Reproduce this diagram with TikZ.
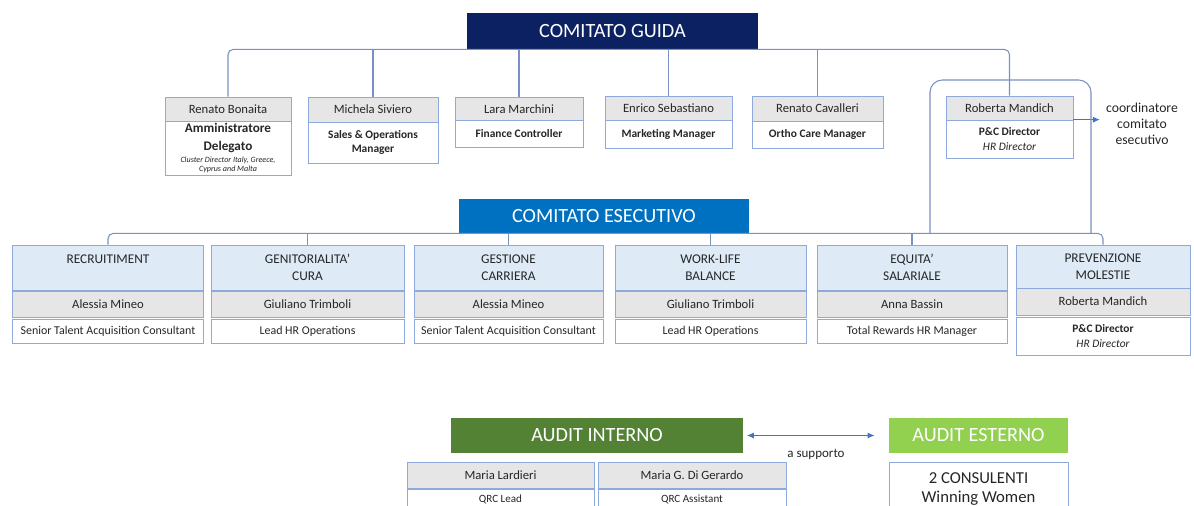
\documentclass[tikz,border=0pt]{standalone}
\usepackage{fontspec}
\setmainfont{Carlito}
\usetikzlibrary{positioning, arrows.meta}
\definecolor{cgnavy}{HTML}{0C2161}
\definecolor{ceblue}{HTML}{0070C0}
\definecolor{hdfill}{HTML}{DEEBF7}
\definecolor{bordc}{HTML}{8EA9DB}
\definecolor{namefill}{HTML}{E6E6E6}
\definecolor{linkc}{HTML}{7A8FC2}
\definecolor{aigreen}{HTML}{548235}
\definecolor{aegreen}{HTML}{92D050}
\definecolor{arrc}{HTML}{4472C4}
\definecolor{txt}{HTML}{262626}

\begin{document}
\begin{tikzpicture}[x=0.02cm, y=-0.02cm,
    head/.style={fill=#1, text=white, font=\fontsize{11.5}{13}\selectfont, inner sep=0pt},
    nm/.style={draw=bordc, fill=namefill, text=txt, font=\fontsize{7.2}{9}\selectfont, minimum height=0.5cm, inner sep=0pt},
    job/.style={draw=bordc, fill=white, text=txt, font=\fontsize{6.8}{8}\selectfont, align=center, inner sep=0pt},
    tit/.style={job, font=\fontsize{6.5}{8.4}\selectfont\bfseries},
    area/.style={draw=bordc, fill=hdfill, text=txt, font=\fontsize{7.6}{9.6}\selectfont, align=center, minimum width=3.82cm, minimum height=0.9cm, inner sep=0pt},
    link/.style={draw=linkc, line width=0.6pt, rounded corners=3pt},
    arr/.style={draw=arrc, line width=0.6pt}]
  \useasboundingbox (0,0) rectangle (1194,506);
  \clip (0,0) rectangle (1194,506);

  \node[head=cgnavy, minimum width=5.82cm, minimum height=0.72cm] (cg) at (612.5,31) {COMITATO GUIDA};

  \node[nm, minimum width=2.52cm, minimum height=0.48cm] (rbn) at (228,109) {Renato Bonaita};
  \node[tit, minimum width=2.52cm, minimum height=1.08cm] (rbr) at (228,148) {{\fontsize{7.5}{9}\selectfont Amministratore}\\[1.6pt]{\fontsize{7.5}{9}\selectfont Delegato}\\[-1.5pt]{\fontsize{4.6}{5}\selectfont\mdseries\itshape Cluster Director Italy, Greece,}\\[-3.6pt]{\fontsize{4.6}{5}\selectfont\mdseries\itshape Cyprus and Malta}};
  \node[nm, minimum width=2.6cm] (msn) at (373,109.5) {Michela Siviero};
  \node[tit, minimum width=2.6cm, minimum height=0.82cm] (msr) at (373,142.5) {Sales \& Operations\\Manager};
  \node[nm, minimum width=2.56cm, minimum height=0.48cm] (lmn) at (519,109) {Lara Marchini};
  \node[tit, minimum width=2.56cm, minimum height=0.54cm] (lmr) at (519,134) {Finance Controller};
  \node[nm, minimum width=2.54cm, minimum height=0.48cm] (esn) at (668.5,108) {Enrico Sebastiano};
  \node[tit, minimum width=2.54cm, minimum height=0.56cm] (esr) at (668.5,134) {Marketing Manager};
  \node[nm, minimum width=2.62cm] (rcn) at (817.5,108.5) {Renato Cavalleri};
  \node[tit, minimum width=2.62cm, minimum height=0.54cm] (rcr) at (817.5,134.5) {Ortho Care Manager};
  \node[nm, minimum width=2.54cm, minimum height=0.48cm] (rmn) at (1009.5,108) {Roberta Mandich};
  \node[tit, minimum width=2.54cm, minimum height=0.76cm] (rmr) at (1009.5,139) {P\&C Director\\{\mdseries\itshape HR Director}};
  \node[text=txt, font=\fontsize{7.8}{9}\selectfont, align=center] (coord) at (1142,124) {coordinatore\\comitato\\esecutivo};

  \draw[link] (rbn.north) |- (cg.south);
  \draw[link] (rmn.north) |- (cg.south);
  \draw[link] (msn.north) -- (msn.north |- cg.south);
  \draw[link] (lmn.north) -- (lmn.north |- cg.south);
  \draw[link] (esn.north) -- (esn.north |- cg.south);
  \draw[link] (rcn.north) -- (rcn.north |- cg.south);
  \draw[arr, -{Latex[length=4pt, width=3.5pt]}] (rmr.north east) -- (rmr.north east -| coord.west);

  \node[head=ceblue, minimum width=5.8cm, minimum height=0.68cm] (ce) at (604,216) {COMITATO ESECUTIVO};

  \node[area] (rec) at (108,267.5) {RECRUITIMENT\\~};
  \node[nm, minimum width=3.82cm, minimum height=0.52cm] (recn) at (108,304) {Alessia Mineo};
  \node[job, minimum width=3.82cm, minimum height=0.48cm] (recr) at (108,331) {Senior Talent Acquisition Consultant};
  \node[area, minimum width=3.86cm] (gen) at (307.5,267.5) {GENITORIALITA’\\CURA};
  \node[nm, minimum width=3.86cm, minimum height=0.52cm] (genn) at (307.5,304) {Giuliano Trimboli};
  \node[job, minimum width=3.86cm, minimum height=0.48cm] (genr) at (307.5,331) {Lead HR Operations};
  \node[area, minimum width=3.78cm] (ges) at (508.5,267.5) {GESTIONE\\CARRIERA};
  \node[nm, minimum width=3.78cm, minimum height=0.52cm] (gesn) at (508.5,304) {Alessia Mineo};
  \node[job, minimum width=3.78cm, minimum height=0.48cm] (gesr) at (508.5,331) {Senior Talent Acquisition Consultant};
  \node[area] (wlb) at (710.5,267.5) {WORK-LIFE\\BALANCE};
  \node[nm, minimum width=3.82cm, minimum height=0.52cm] (wlbn) at (710.5,304) {Giuliano Trimboli};
  \node[job, minimum width=3.82cm, minimum height=0.48cm] (wlbr) at (710.5,331) {Lead HR Operations};
  \node[area, minimum width=3.8cm] (equ) at (912,267.5) {EQUITA’\\SALARIALE};
  \node[nm, minimum width=3.8cm, minimum height=0.52cm] (equn) at (912,304) {Anna Bassin};
  \node[job, minimum width=3.8cm, minimum height=0.48cm] (equr) at (912,331) {Total Rewards HR Manager};
  \node[area, minimum width=3.48cm, minimum height=0.86cm] (pre) at (1103,266.5) {PREVENZIONE\\MOLESTIE};
  \node[nm, minimum width=3.48cm, minimum height=0.54cm] (pren) at (1103,301.5) {Roberta Mandich};
  \node[tit, minimum width=3.48cm, minimum height=0.76cm] (prer) at (1103,336) {P\&C Director\\{\mdseries\itshape HR Director}};

  \draw[link] (rec.north) |- (ce.south);
  \draw[link] (pre.north) |- (ce.south);
  \draw[link] (gen.north) -- (gen.north |- ce.south);
  \draw[link] (ges.north) -- (ges.north |- ce.south);
  \draw[link] (wlb.north) -- (wlb.north |- ce.south);
  \draw[link] (equ.north) -- (equ.north |- ce.south);

  \coordinate (brl) at (930,233);
  \coordinate (brr) at (1091,233);
  \coordinate (brt) at (1010,80);
  \draw[link, rounded corners=7pt] (brl) |- (brt) -| (brr);

  \node[head=aigreen, minimum width=5.84cm, minimum height=0.7cm] (ai) at (597,435.5) {AUDIT INTERNO};
  \node[head=aegreen, minimum width=3.58cm, minimum height=0.7cm] (ae) at (978.5,435.5) {AUDIT ESTERNO};
  \draw[arr, {Latex[length=4pt, width=3.5pt]}-{Latex[length=4pt, width=3.5pt]}, shorten <=2pt, shorten >=8pt] (ai.east) -- node[below=4pt, text=txt, font=\fontsize{7.4}{8}\selectfont] {a supporto} (ae.west);

  \node[nm, minimum width=3.74cm, minimum height=0.52cm] (mln) at (500.5,475) {Maria Lardieri};
  \node[job, minimum width=3.74cm, minimum height=0.4cm, anchor=north, font=\fontsize{6.3}{7}\selectfont] (mlr) at (500.5,489) {QRC Lead};
  \node[nm, minimum width=3.76cm, minimum height=0.52cm] (mgn) at (692,475) {Maria G. Di Gerardo};
  \node[job, minimum width=3.76cm, minimum height=0.4cm, anchor=north, font=\fontsize{6.3}{7}\selectfont] (mgr) at (692,489) {QRC Assistant};
  \node[job, font=\fontsize{9.5}{11}\selectfont, minimum width=3.58cm, minimum height=1.08cm] (cons) at (978.5,489) {2 CONSULENTI\\Winning Women};
\end{tikzpicture}
\end{document}
